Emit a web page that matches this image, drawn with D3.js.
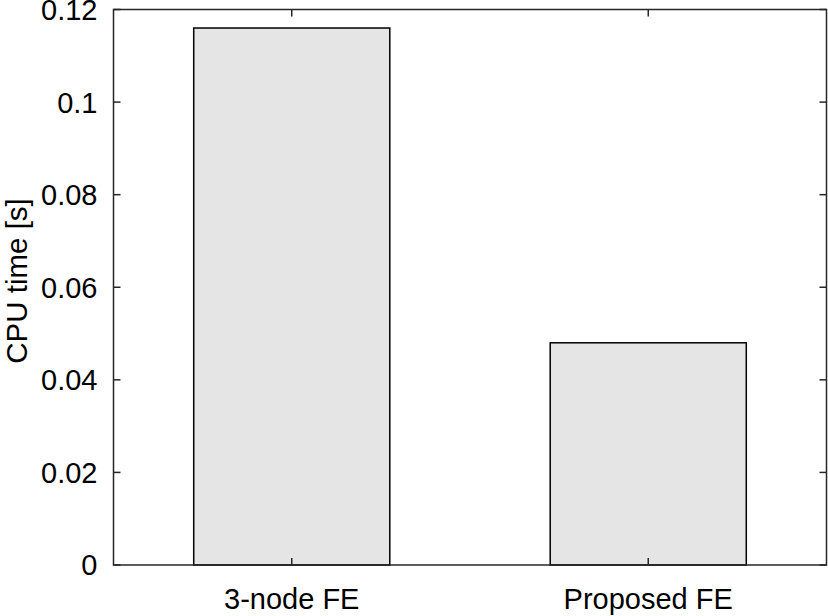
<!DOCTYPE html>
<html>

<head>
  <title>CPU time</title>
  <script src="https://cdn.jsdelivr.net/npm/d3@7"></script>
  <style>
    body { margin: 0; background: #fff; }
    text { font-family: "Liberation Sans", Arial, sans-serif; }
  </style>
</head>

<body>
  <svg width="828" height="616" id="mainsvg"></svg>
  <script>
    const categories = ['3-node FE', 'Proposed FE'];
    const cpuTime = [0.116, 0.048];
    const yTicks = [0, 0.02, 0.04, 0.06, 0.08, 0.1, 0.12];

    const svg = d3.select('#mainsvg');
    const margin = { left: 113.5, right: 1.5, top: 9.5, bottom: 51 };
    const width = +svg.attr('width');
    const height = +svg.attr('height');
    const x0 = margin.left, x1 = width - margin.right;
    const y0 = height - margin.bottom, y1 = margin.top;
    const axisColor = '#262626';
    const fontSize = 29;
    const tickLen = 7;

    // matlab style: categories at 1..n, xlim [0.5, n+0.5]
    const x = d3.scaleLinear().domain([0.5, categories.length + 0.5]).range([x0, x1]);
    const y = d3.scaleLinear().domain([0, 0.12]).range([y0, y1]);
    const barW = 0.55;

    const g = svg.append('g');

    // bars
    g.selectAll('rect.bar').data(cpuTime).join('rect')
      .attr('class', 'bar')
      .attr('x', (d, i) => x(i + 1 - barW / 2))
      .attr('width', x(barW) - x(0))
      .attr('y', d => y(d))
      .attr('height', d => y(0) - y(d))
      .attr('fill', '#e5e5e5')
      .attr('stroke', '#000')
      .attr('stroke-width', 1.5);

    // box
    g.append('rect')
      .attr('x', x0).attr('y', y1)
      .attr('width', x1 - x0).attr('height', y0 - y1)
      .attr('fill', 'none')
      .attr('stroke', axisColor)
      .attr('stroke-width', 1.5);

    // y ticks (inside, both sides)
    const yt = g.selectAll('g.ytick').data(yTicks).join('g').attr('class', 'ytick');
    yt.append('line')
      .attr('x1', x0).attr('x2', x0 + tickLen)
      .attr('y1', d => y(d)).attr('y2', d => y(d))
      .attr('stroke', axisColor).attr('stroke-width', 1.5);
    yt.append('line')
      .attr('x1', x1).attr('x2', x1 - tickLen)
      .attr('y1', d => y(d)).attr('y2', d => y(d))
      .attr('stroke', axisColor).attr('stroke-width', 1.5);
    yt.append('text')
      .attr('x', x0 - 16)
      .attr('y', d => y(d))
      .attr('dy', '0.36em')
      .attr('text-anchor', 'end')
      .attr('font-size', fontSize)
      .attr('fill', '#000')
      .text(d => d3.format('~g')(d));

    // x ticks
    const xt = g.selectAll('g.xtick').data(categories).join('g').attr('class', 'xtick');
    xt.append('line')
      .attr('x1', (d, i) => x(i + 1)).attr('x2', (d, i) => x(i + 1))
      .attr('y1', y0).attr('y2', y0 - tickLen)
      .attr('stroke', axisColor).attr('stroke-width', 1.5);
    xt.append('line')
      .attr('x1', (d, i) => x(i + 1)).attr('x2', (d, i) => x(i + 1))
      .attr('y1', y1).attr('y2', y1 + tickLen)
      .attr('stroke', axisColor).attr('stroke-width', 1.5);
    xt.append('text')
      .attr('x', (d, i) => x(i + 1))
      .attr('y', 609)
      .attr('text-anchor', 'middle')
      .attr('font-size', fontSize)
      .attr('fill', '#000')
      .text(d => d);

    // y label
    svg.append('text')
      .attr('transform', `translate(27,281) rotate(-90)`)
      .attr('text-anchor', 'middle')
      .attr('font-size', 29.5)
      .attr('fill', '#000')
      .text('CPU time [s]');
  </script>
</body>

</html>
